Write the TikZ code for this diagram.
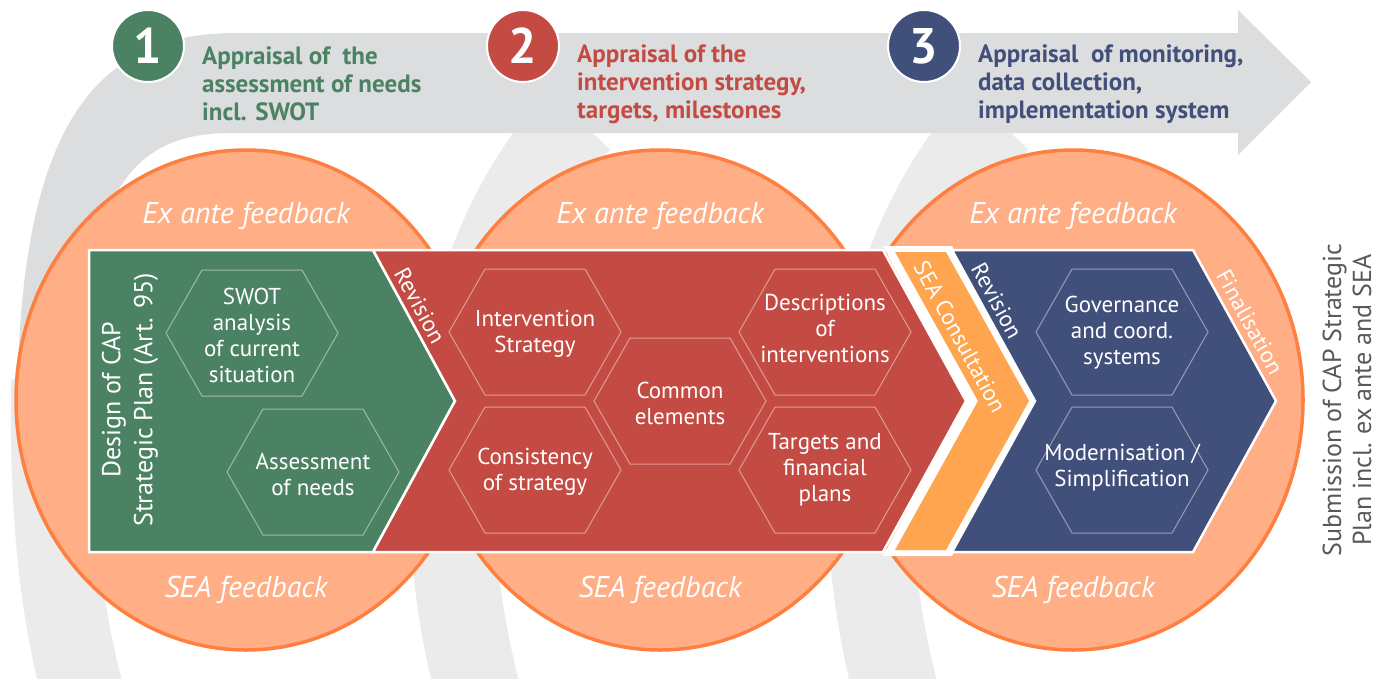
\documentclass[tikz,border=0pt]{standalone}
\usepackage{fontspec}
\setmainfont{PT Sans}
\usetikzlibrary{shapes.geometric}

\definecolor{capgreen}{HTML}{4C8264}
\definecolor{capred}{HTML}{C44B43}
\definecolor{capblue}{HTML}{414F7B}
\definecolor{capamber}{HTML}{FFA54F}
\definecolor{capsalmon}{HTML}{FFAE85}
\definecolor{caporange}{HTML}{FF7F41}
\definecolor{bandgrey}{HTML}{DCDDDE}
\definecolor{loopgrey}{HTML}{EBEBEB}
\definecolor{notegrey}{HTML}{58595B}

\begin{document}
\begin{tikzpicture}[x=1pt,y=-1pt,
    lobe/.style={ellipse,fill=capsalmon,draw=caporange,line width=3.5,
      minimum width=460,minimum height=500,inner sep=0},
    lobetext/.style={text=white,font=\itshape\fontsize{30}{32}\selectfont},
    chevron/.style={draw=white,line width=2.5,line join=miter},
    hexline/.style={draw=white,draw opacity=0.45,line width=1},
    hextext/.style={text=white,align=center,inner sep=0,
      font=\fontsize{23}{26}\selectfont},
    stagenum/.style={circle,draw=white,line width=2,minimum size=72,
      inner sep=0,text=white,font=\bfseries\fontsize{50}{50}\selectfont},
    stagehead/.style={anchor=west,align=left,inner sep=0,
      font=\bfseries\fontsize{25}{28}\selectfont},
    slanttext/.style={rotate=-61.5,inner sep=0,font=\fontsize{23}{26}\selectfont}]
  \useasboundingbox (0,0) rectangle (1379,678);
  \clip (0,0) rectangle (1379,678);

  % back loops of the spiral
  \draw[loopgrey,line width=82] (52,380) .. controls (50,520) and (62,620) .. (85,700);
  \foreach \dx in {0,418}
    \draw[loopgrey,line width=85,xshift=\dx] (580,120) .. controls (480,220) and (410,440) .. (480,700);

  % front band with arrow head
  \fill[bandgrey] (17,423) .. controls (17,150) and (80,33) .. (235,33) -- (1238,33)
    -- (1238,10) -- (1311,82) -- (1238,155) -- (1238,133) -- (230,133)
    .. controls (120,133) and (80,210) .. (80,423) -- cycle;

  % three stages on top
  \node[stagenum,fill=capgreen] (numA) at (148,46) {1};
  \node[stagenum,fill=capred] (numB) at (523,46) {2};
  \node[stagenum,fill=capblue] (numC) at (924,46) {3};
  \node[stagehead,text=capgreen] (headA) at (202,84) {Appraisal of \ the\\assessment of needs\\incl. SWOT};
  \node[stagehead,text=capred] (headB) at (577,84) {Appraisal of the\\intervention strategy,\\targets, milestones};
  \node[stagehead,text=capblue] (headC) at (978,84) {Appraisal \ of monitoring,\\data collection,\\implementation system};

  % feedback lobes
  \node[lobe] (lobeA) at (246,400) {};
  \node[lobe] (lobeB) at (660,400) {};
  \node[lobe] (lobeC) at (1073,400) {};
  \foreach \n/\cx in {A/246,B/660,C/1073} {
    \node[lobetext] (exante\n) at (\cx,216) {Ex ante feedback};
    \node[lobetext] (sea\n) at (\cx,590) {SEA feedback};
  }

  % chevrons
  \draw[chevron,fill=capgreen] (89,250) -- (373,250) -- (455,401) -- (373,552) -- (89,552) -- cycle;
  \draw[chevron,fill=capred] (373,250) -- (883,250) -- (966,401) -- (883,552) -- (373,552) -- (455,401) -- cycle;
  \fill[white] (883,246) -- (952,246) -- (1036,401) -- (952,556) -- (883,556) -- (966,401) -- cycle;
  \fill[capamber] (895,252) -- (946,252) -- (1029,401) -- (946,550) -- (895,550) -- (978,401) -- cycle;
  \draw[chevron,fill=capblue] (952,250) -- (1193,250) -- (1276,401) -- (1193,552) -- (952,552) -- (1035,401) -- cycle;

  % hexagons
  \foreach \cx/\cy in {252/333,313/472,535/332,535/470,680/401,825/332,825/470,1122/332,1122/470}
    \draw[hexline] (\cx-86,\cy) -- (\cx-50,\cy-63) -- (\cx+50,\cy-63) -- (\cx+86,\cy)
      -- (\cx+50,\cy+63) -- (\cx-50,\cy+63) -- cycle;
  \node[hextext] (swot) at (252,335) {SWOT\\analysis\\of current\\situation};
  \node[hextext] (needs) at (313,474) {Assessment\\of needs};
  \node[hextext] (strategy) at (535,334) {Intervention\\Strategy};
  \node[hextext] (consist) at (535,472) {Consistency\\of strategy};
  \node[hextext] (common) at (680,403) {Common\\elements};
  \node[hextext] (descr) at (825,328) {Descriptions\\of\\interventions};
  \node[hextext] (targets) at (825,470) {Targets and\\financial\\plans};
  \node[hextext] (govern) at (1122,333) {Governance\\and coord.\\systems};
  \node[hextext] (modern) at (1122,468) {Modernisation /\\Simplification};

  % side labels
  \node[text=white,rotate=90,align=center,inner sep=0,
    font=\fontsize{26}{32}\selectfont] (design) at (130,400) {Design of CAP\\Strategic Plan (Art. 95)};
  \node[slanttext,text=white] (revA) at (420,306) {Revision};
  \node[slanttext,text=white] (consult) at (960,337) {SEA Consultation};
  \node[slanttext,text=white] (revB) at (997,301) {Revision};
  \node[slanttext,text=white] (final) at (1250,322) {Finalisation};
  \node[text=notegrey,rotate=90,align=center,inner sep=0,
    font=\fontsize{26}{30}\selectfont] (submit) at (1347,400) {Submission of CAP Strategic\\Plan incl. ex ante and SEA};
\end{tikzpicture}
\end{document}
